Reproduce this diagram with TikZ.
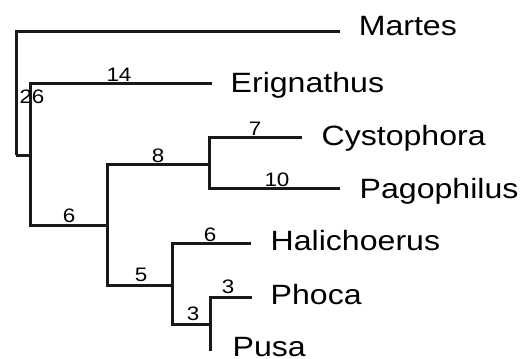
\documentclass[tikz,border=0pt]{standalone}
\usepackage{fontspec}
\setmainfont{Liberation Sans}[FakeStretch=1.15]
\begin{document}
\begin{tikzpicture}[x=1pt,y=-1pt,
  branch/.style={line width=3pt, draw=black!90},
  taxon/.style={anchor=base west, inner sep=0pt, font=\fontsize{27.9}{30}\selectfont, text=black},
  blen/.style={anchor=base, inner sep=0pt, font=\fontsize{19.5}{21}\selectfont, text=black}]
\useasboundingbox (0,0) rectangle (523,359);
% internal nodes
\coordinate (r) at (16,155);
\coordinate (n26) at (30,155);
\coordinate (n6) at (107,225);
\coordinate (n8) at (209,164);
\coordinate (n5) at (172,285);
\coordinate (n3) at (210,324);
% tips
\coordinate (tMartes) at (340,31);
\coordinate (tErig) at (212,83);
\coordinate (tCysto) at (302,137);
\coordinate (tPago) at (340,188);
\coordinate (tHali) at (251,243);
\coordinate (tPhoca) at (252,297);
\coordinate (tPusa) at (210,351);
% branches
\draw[branch] (r) |- (tMartes);
\draw[branch] (r) -- (n26);
\draw[branch] (n26) |- (tErig);
\draw[branch] (n26) |- (n6);
\draw[branch] (n6) |- (n8);
\draw[branch] (n6) |- (n5);
\draw[branch] (n8) |- (tCysto);
\draw[branch] (n8) |- (tPago);
\draw[branch] (n5) |- (tHali);
\draw[branch] (n5) |- (n3);
\draw[branch] (n3) |- (tPhoca);
\draw[branch] (n3) -- (tPusa);
% taxon names
\node[taxon] (Martes) at (358.6,35) {Martes};
\node[taxon] (Erig) at (230.5,92) {Erignathus};
\node[taxon] (Cysto) at (321.4,145) {Cystophora};
\node[taxon] (Pago) at (359.5,198) {Pagophilus};
\node[taxon] (Hali) at (270.5,250) {Halichoerus};
\node[taxon] (Phoca) at (270.5,304) {Phoca};
\node[taxon] (Pusa) at (232.5,356) {Pusa};
% branch lengths
\node[blen] (l14) at (119,81) {14};
\node[blen] (l26) at (32,103) {26};
\node[blen] (l8) at (158,162) {8};
\node[blen] (l7) at (255,135) {7};
\node[blen] (l10) at (277,186) {10};
\node[blen] (l6a) at (69,222) {6};
\node[blen] (l6b) at (210,241) {6};
\node[blen] (l5) at (141,281) {5};
\node[blen] (l3a) at (193,320) {3};
\node[blen] (l3b) at (228,293) {3};
\end{tikzpicture}
\end{document}
